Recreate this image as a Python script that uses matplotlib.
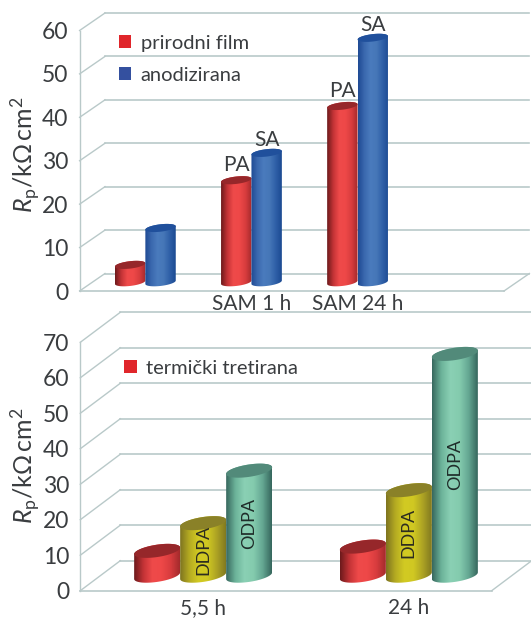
import numpy as np
import matplotlib
matplotlib.use("Agg")
import matplotlib.pyplot as plt
from matplotlib.colors import LinearSegmentedColormap
from matplotlib.patches import Polygon, Patch

W, H = 531, 620

plt.rcParams["font.family"] = ["Lato", "DejaVu Sans"]
plt.rcParams["mathtext.fontset"] = "custom"
plt.rcParams["mathtext.rm"] = "Lato"
plt.rcParams["mathtext.it"] = "Lato:italic"

TEXT = "#3a3d40"
GRID = "#b9c9c9"

# gornji graf
top_groups = ["", "SAM 1 h", "SAM 24 h"]
top_natural = [4.0, 23.5, 40.6]
top_anodized = [12.5, 29.8, 56.3]
top_natural_labels = ["", "PA", "PA"]
top_anodized_labels = ["", "SA", "SA"]
top_ticks = [0, 10, 20, 30, 40, 50, 60]

# donji graf
bottom_groups = ["5,5 h", "24 h"]
bottom_plain = [7.0, 8.2]
bottom_ddpa = [14.8, 24.1]
bottom_odpa = [29.6, 62.5]
bottom_ticks = [0, 10, 20, 30, 40, 50, 60, 70]

COLORS = {
    "red": (["#6e1a1c", "#c43336", "#ef4a4a", "#ee4848", "#d83c3e", "#a52a2c"], "#96272a"),
    "blue": (["#1f4a94", "#3a68ae", "#4a7bbd", "#4677b8", "#2f60a8", "#1c4a92"], "#20509c"),
    "yellow": (["#7f7520", "#b5ab22", "#d2ca22", "#d0c822", "#aea424", "#827a20"], "#8a8128"),
    "green": (["#38695f", "#6cb39a", "#8ad0b4", "#84cbae", "#65a893", "#37685e"], "#528a7a"),
}


def make_axes(left, right, top, bottom):
    ax = plt.axes([left / W, 1 - bottom / H, (right - left) / W, (bottom - top) / H])
    for s in ax.spines.values():
        s.set_visible(False)
    return ax


def draw_walls(ax, ticks, dx, dy, right_end):
    x_end = ax.get_xlim()[1]
    for v in ticks:
        ax.plot([0, dx], [v, v + dy], color=GRID, lw=1.0, clip_on=False, zorder=1)
        ax.plot([dx, right_end], [v + dy, v + dy], color=GRID, lw=1.2, clip_on=False, zorder=1)
    ax.plot([0, 0], [0, ticks[-1]], color=GRID, lw=1.0, clip_on=False, zorder=1)
    ax.plot([0, x_end], [0, 0], color=GRID, lw=1.2, clip_on=False, zorder=1)
    ax.plot([x_end, x_end + dx], [0, dy], color=GRID, lw=1.0, clip_on=False, zorder=1)


def ring(cx, y, a, b, shear, t):
    return np.column_stack([cx + a * np.cos(t), y + b * np.sin(t) + shear * np.cos(t)])


def cylinder(ax, cx, value, half_w, base, semi, shear, color, z):
    stops, cap = COLORS[color]
    cmap = LinearSegmentedColormap.from_list(color, stops)
    top = base + value
    lower = ring(cx, base, half_w, semi, shear, np.linspace(np.pi, 2 * np.pi, 40))
    upper = ring(cx, top, half_w, semi, shear, np.linspace(0, 2 * np.pi, 80)[:41])
    body = Polygon(np.vstack([lower, upper]), closed=True, fc="none", ec="none", zorder=z)
    ax.add_patch(body)
    im = ax.imshow(
        np.linspace(0, 1, 64).reshape(1, -1), cmap=cmap, aspect="auto", zorder=z,
        extent=(cx - half_w, cx + half_w, base - 2 * semi - shear, top + 2 * semi + shear),
    )
    im.set_clip_path(body)
    lid = ring(cx, top, half_w, semi, shear, np.linspace(0, 2 * np.pi, 80))
    ax.add_patch(Polygon(lid, closed=True, fc=cap, ec="none", zorder=z + 0.1))


def finish(ax, xs, labels, ticks, pad, label_xy):
    ax.set_xticks(xs)
    ax.set_xticklabels(labels, fontsize=15, color=TEXT)
    ax.set_yticks(ticks)
    ax.set_yticklabels([str(t) for t in ticks], fontsize=16.5, color=TEXT)
    ax.tick_params(length=0, axis="y", pad=8)
    ax.tick_params(length=0, axis="x", pad=pad)
    ax.set_ylabel(r"$\mathit{R}_{\mathrm{p}}$/k$\Omega\,$cm$^2$", fontsize=18, color=TEXT, va="center")
    ax.yaxis.set_label_coords(*label_xy)


fig = plt.figure(figsize=(W / 100, H / 100), dpi=100, facecolor="white")

# SAM: dvije serije po skupini
L1, R1, T1, B1 = 79.6, 504, 30.5, 291
ax1 = make_axes(L1, R1, T1, B1)
ax1.set_xlim(0, 4)
ax1.set_ylim(0, 60)
px1 = 4 / (R1 - L1)
py1 = 60 / (B1 - T1)
dx1, dy1 = 25.4 * px1, 17.5 * py1
draw_walls(ax1, top_ticks, dx1, dy1, 4 + dx1)
w1 = 15.2 * px1
centers1 = np.arange(len(top_groups)) + 0.5 + dx1 / 2
for i, c in enumerate(centers1):
    cylinder(ax1, c - w1, top_natural[i], w1, dy1 / 2, 3.7 * py1, 1.7 * py1, "red", 3)
    cylinder(ax1, c + w1, top_anodized[i], w1, dy1 / 2, 3.7 * py1, 1.7 * py1, "blue", 4)
    ax1.text(c - w1, dy1 / 2 + top_natural[i] + 15 * py1, top_natural_labels[i], ha="center", va="center", fontsize=15, color=TEXT, zorder=6)
    ax1.text(c + w1, dy1 / 2 + top_anodized[i] + 13 * py1, top_anodized_labels[i], ha="center", va="center", fontsize=15, color=TEXT, zorder=6)
finish(ax1, centers1, top_groups, top_ticks, 2, ((25 - L1) / (R1 - L1), (B1 - 155) / (B1 - T1)))
ax1.legend(
    handles=[Patch(fc="#e0262b", label="prirodni film"), Patch(fc="#34509f", label="anodizirana")],
    loc="upper left", bbox_to_anchor=((118.5 - L1) / (R1 - L1), (B1 - 34.5) / (B1 - T1)), frameon=False,
    fontsize=14.5, borderpad=0, borderaxespad=0,
    handlelength=0.645, handleheight=0.645, handletextpad=0.45, labelspacing=0.76, labelcolor=TEXT,
)

# termički tretirana: tri serije po skupini
L2, R2, T2, B2 = 80.3, 491.7, 342.3, 590.7
ax2 = make_axes(L2, R2, T2, B2)
ax2.set_xlim(0, 2)
ax2.set_ylim(0, 70)
px2 = 2 / (R2 - L2)
py2 = 70 / (B2 - T2)
dx2, dy2 = 40 * px2, 30 * py2
draw_walls(ax2, bottom_ticks, dx2, dy2, 2 + dx2)
w2 = 23 * px2
centers2 = np.arange(len(bottom_groups)) + 0.5 + dx2 / 2
for i, c in enumerate(centers2):
    for off, vals, col, z in [(-2, bottom_plain, "red", 3), (0, bottom_ddpa, "yellow", 4), (2, bottom_odpa, "green", 5)]:
        cylinder(ax2, c + off * w2, vals[i], w2, dy2 / 2, 6.2 * py2, 3.3 * py2, col, z)
    ax2.text(c, dy2 / 2 + bottom_ddpa[i] / 2, "DDPA", rotation=90, ha="center", va="center", fontsize=13, color="#2c2c20", zorder=7)
    ax2.text(c + 2 * w2, dy2 / 2 + bottom_odpa[i] / 2, "ODPA", rotation=90, ha="center", va="center", fontsize=13, color="#1f2d2a", zorder=7)
finish(ax2, centers2, bottom_groups, bottom_ticks, 5.5, ((25 - L2) / (R2 - L2), (B2 - 466) / (B2 - T2)))
ax2.legend(
    handles=[Patch(fc="#e0262b", label="termički tretirana")],
    loc="upper left", bbox_to_anchor=((123.6 - L2) / (R2 - L2), (B2 - 359.5) / (B2 - T2)), frameon=False,
    fontsize=14.5, borderpad=0, borderaxespad=0,
    handlelength=0.645, handleheight=0.645, handletextpad=0.45, labelcolor=TEXT,
)

fig.savefig("out.png", dpi=100)
